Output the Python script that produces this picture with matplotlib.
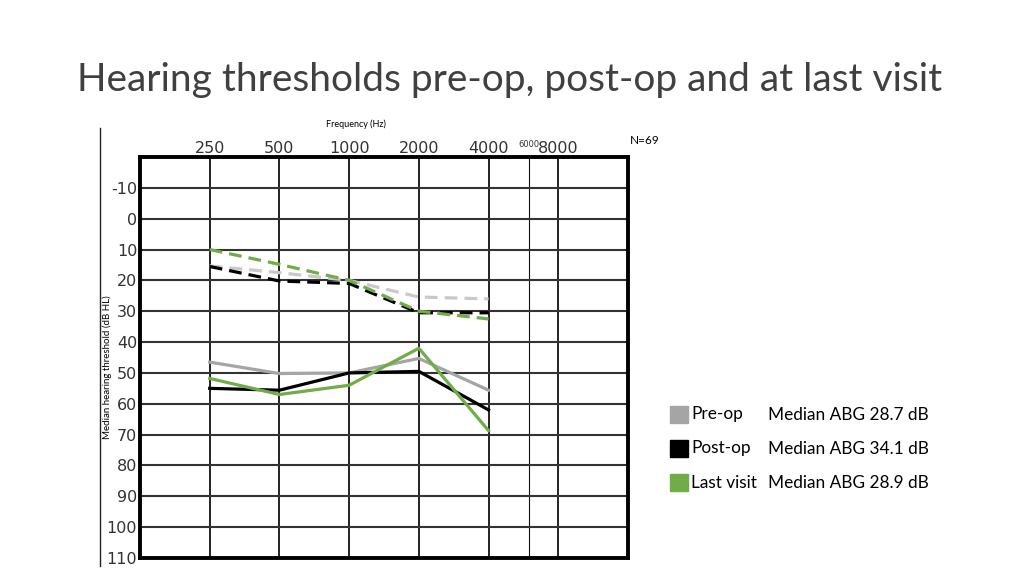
import matplotlib.pyplot as plt
from matplotlib.patches import Rectangle
from matplotlib.lines import Line2D

freqs = [250, 500, 1000, 2000, 4000]
freq_ticks = [250, 500, 1000, 2000, 4000, 8000]
db_ticks = [-10, 0, 10, 20, 30, 40, 50, 60, 70, 80, 90, 100, 110]

# solid = air conduction, dashed = bone conduction (median, dB HL)
pre_air = [46.5, 50.2, 50.0, 45.3, 55.6]
post_air = [55.0, 55.6, 50.0, 49.5, 62.0]
last_air = [51.8, 57.0, 54.0, 42.0, 68.7]
pre_bone = [15.3, 17.5, 20.0, 25.4, 26.0]
post_bone = [15.5, 20.2, 21.0, 30.5, 30.5]
last_bone = [10.0, 14.8, 20.0, 30.0, 32.5]

legend_names = ['Pre-op', 'Post-op', 'Last visit']
legend_abg = ['Median ABG 28.7 dB', 'Median ABG 34.1 dB', 'Median ABG 28.9 dB']

c_pre, c_pre_d, c_post, c_last = '#a5a5a5', '#c9c9c9', '#000000', '#70ad47'

fig = plt.figure(figsize=(10.24, 5.76), dpi=100)
ax = fig.add_axes([140 / 1024, 1 - 558 / 576, 488 / 1024, 401 / 576])

ax.set_xscale('log', base=2)
ax.set_xlim(125, 16000)
ax.set_ylim(110, -20)

ax.plot(freqs, pre_air, color=c_pre, lw=2.3)
ax.plot(freqs, post_air, color=c_post, lw=2.3)
ax.plot(freqs, last_air, color=c_last, lw=2.3)
ax.plot(freqs, pre_bone, color=c_pre_d, lw=2.3, dashes=(4, 2.2))
ax.plot(freqs, post_bone, color=c_post, lw=2.3, dashes=(4, 2.2))
ax.plot(freqs, last_bone, color=c_last, lw=2.3, dashes=(4, 2.2))

ax.xaxis.tick_top()
ax.set_xticks(freq_ticks, labels=[str(f) for f in freq_ticks])
ax.set_xticks([6000], labels=['6000'], minor=True)
ax.set_yticks(db_ticks, labels=[str(d) for d in db_ticks])
ax.tick_params(axis='x', which='major', length=0, pad=1, labelsize=11.5, colors='#333333')
ax.tick_params(axis='x', which='minor', length=0, pad=5.5, labelsize=6, colors='#333333')
ax.tick_params(axis='y', length=0, pad=2, labelsize=11.5, colors='#333333')
ax.grid(axis='x', which='major', color='#111111', lw=1.3)
ax.grid(axis='x', which='minor', color='#111111', lw=0.8)
ax.grid(axis='y', color='#333333', lw=1.5)
ax.set_axisbelow(True)
for s in ax.spines.values():
    s.set_linewidth(2.8)

fig.text(356 / 1024, 1 - 124 / 576, 'Frequency (Hz)', ha='center', va='center',
         fontsize=6.5, family='Lato')
fig.text(107 / 1024, 1 - 367 / 576, 'Median hearing threshold (dB HL)', rotation=90,
         ha='center', va='center', fontsize=7, family='Lato')
fig.add_artist(Line2D([100 / 1024, 100 / 1024], [1 - 128 / 576, 1 - 566 / 576],
                      color='#222222', lw=1))

fig.text(510 / 1024, 1 - 80 / 576, 'Hearing thresholds pre-op, post-op and at last visit',
         ha='center', va='center', fontsize=28, family='Lato', color='#404040')
fig.text(645 / 1024, 1 - 141 / 576, 'N=69', ha='center', va='center',
         fontsize=8.5, family='Lato')

for i, (name, abg, col) in enumerate(zip(legend_names, legend_abg, [c_pre, c_post, c_last])):
    yc = 1 - (414.5 + 34 * i) / 576
    fig.add_artist(Rectangle((670 / 1024, yc - 8.5 / 576), 18 / 1024, 17 / 576,
                             color=col, transform=fig.transFigure))
    fig.text(691 / 1024, yc, name, ha='left', va='center', fontsize=12.4, family='Lato')
    fig.text(768 / 1024, yc, abg, ha='left', va='center', fontsize=12.4, family='Lato')

fig.savefig('out.png', dpi=100)
